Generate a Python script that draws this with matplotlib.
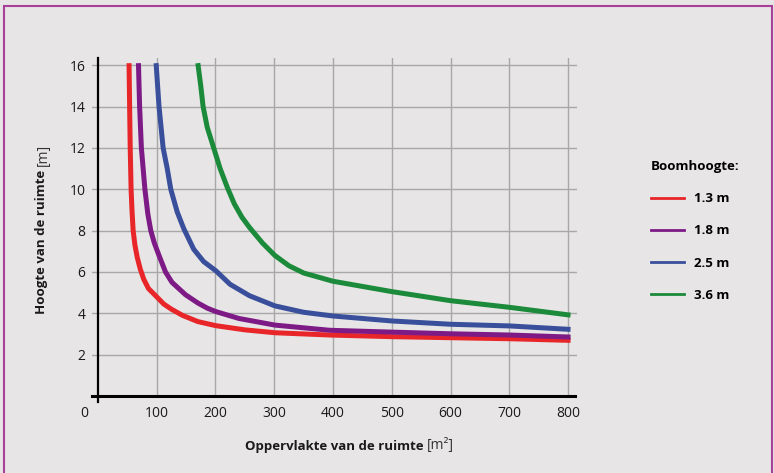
import matplotlib
matplotlib.use("Agg")
import matplotlib.pyplot as plt
from matplotlib.lines import Line2D
from matplotlib.patches import Rectangle

plt.rcParams['font.family'] = ['Open Sans', 'DejaVu Sans']

# values (oppervlakte m2 -> hoogte m)
x_13 = [53, 54, 55, 56.5, 58, 60, 63, 67, 72, 78, 86, 100, 112, 125, 144, 170, 201, 250, 301, 394, 500, 600, 700, 804]
y_13 = [16.1, 14.0, 12.0, 10.0, 9.0, 8.0, 7.3, 6.7, 6.15, 5.65, 5.2, 4.8, 4.45, 4.2, 3.9, 3.6, 3.4, 3.2, 3.06, 2.95, 2.87, 2.82, 2.77, 2.69]

x_18 = [69, 71, 74, 77, 80, 85, 90, 96, 104, 115, 126, 149, 170, 186, 201, 240, 301, 394, 500, 600, 700, 804]
y_18 = [16.1, 14.0, 12.0, 11.0, 10.0, 8.8, 8.0, 7.4, 6.8, 6.0, 5.5, 4.9, 4.5, 4.25, 4.08, 3.75, 3.43, 3.18, 3.09, 3.01, 2.95, 2.85]

x_25 = [99, 104, 111, 118, 124, 135, 146, 163, 180, 201, 225, 258, 301, 350, 400, 500, 600, 700, 804]
y_25 = [16.1, 14.0, 12.0, 11.0, 10.0, 8.9, 8.1, 7.1, 6.5, 6.05, 5.4, 4.85, 4.36, 4.05, 3.87, 3.63, 3.47, 3.39, 3.22]

x_36 = [170, 175, 179, 186, 197, 208, 220, 232, 245, 258, 280, 301, 325, 350, 400, 500, 600, 700, 804]
y_36 = [16.1, 15.0, 14.0, 13.0, 12.0, 11.0, 10.1, 9.3, 8.65, 8.15, 7.4, 6.8, 6.3, 5.95, 5.55, 5.05, 4.61, 4.29, 3.91]

labels = ['1.3 m', '1.8 m', '2.5 m', '3.6 m']
colors = ['#e8262a', '#7d1a85', '#3a4f9c', '#1b8a3a']
xticks = [100, 200, 300, 400, 500, 600, 700, 800]
yticks = [2, 4, 6, 8, 10, 12, 14, 16]

bg = '#e7e5e5'
fig = plt.figure(figsize=(7.74, 4.73), dpi=100, facecolor=bg)
ax = fig.add_axes([92/774, 1-396/473, (577-92)/774, (396-58)/473])
ax.set_facecolor('none')

series = [(x_13, y_13), (x_18, y_18), (x_25, y_25), (x_36, y_36)]
for (xs, ys), c in zip(series, colors):
    ax.plot(xs, ys, color=c, lw=3.6, solid_capstyle='butt',
            solid_joinstyle='round', zorder=3)

ax.set_xlim(-10, 815)
ax.set_ylim(0, 16.35)
ax.set_xticks(xticks)
ax.set_yticks(yticks)
ax.grid(True, color='#a8a8a8', lw=1.0, zorder=1)

for s in ['top', 'right']:
    ax.spines[s].set_visible(False)
ax.spines['left'].set_position(('data', 0))
ax.spines['left'].set_linewidth(1.6)
ax.spines['bottom'].set_linewidth(2.2)
ax.spines['bottom'].set_bounds(-10, 811)
ax.plot([0, 0], [0, -0.3], color='black', lw=1.6, clip_on=False)

ax.tick_params(axis='both', length=0, labelsize=10, colors='#1a1a1a')
ax.tick_params(axis='y', pad=9)
ax.tick_params(axis='x', pad=7)
ax.annotate('0', xy=(0, 0), xytext=(-10, -7), textcoords='offset points',
            ha='center', va='top', fontsize=10, color='#1a1a1a')

# axis titles: bold part + regular unit
tx = fig.text(336/774, 1-446/473, 'Oppervlakte van de ruimte ', fontsize=9.5,
              fontweight='bold', ha='center', va='center', color='#1a1a1a')
ax.annotate('[m²]', xy=(1, 0), xycoords=tx, ha='left', va='bottom',
            fontsize=10, color='#333333')

ty = fig.text(42/774, 1-240/473, 'Hoogte van de ruimte ', fontsize=9.5,
              fontweight='bold', ha='center', va='center', rotation=90, color='#1a1a1a')
ax.annotate('[m]', xy=(0, 1), xycoords=ty, ha='left', va='bottom',
            rotation=90, fontsize=10, color='#333333')

# legend
handles = [Line2D([], [], color=c, lw=2) for c in colors]
leg = fig.legend(handles, labels, title='Boomhoogte:', loc='upper left',
                 bbox_to_anchor=(639/774, 1-148/473), frameon=False,
                 handlelength=2.5, handletextpad=0.8, labelspacing=1.45,
                 alignment='left', prop={'weight': 'bold', 'size': 9.5},
                 title_fontproperties={'weight': 'bold', 'size': 9.5})
leg._legend_box.sep = 14

# purple frame
fig.patches.append(Rectangle((4/774, -0.05), 768/774, 1.05 - 6/473, transform=fig.transFigure,
                             fill=False, edgecolor='#a8409a', lw=1.5))

fig.savefig('out.png', dpi=100, facecolor=bg)
